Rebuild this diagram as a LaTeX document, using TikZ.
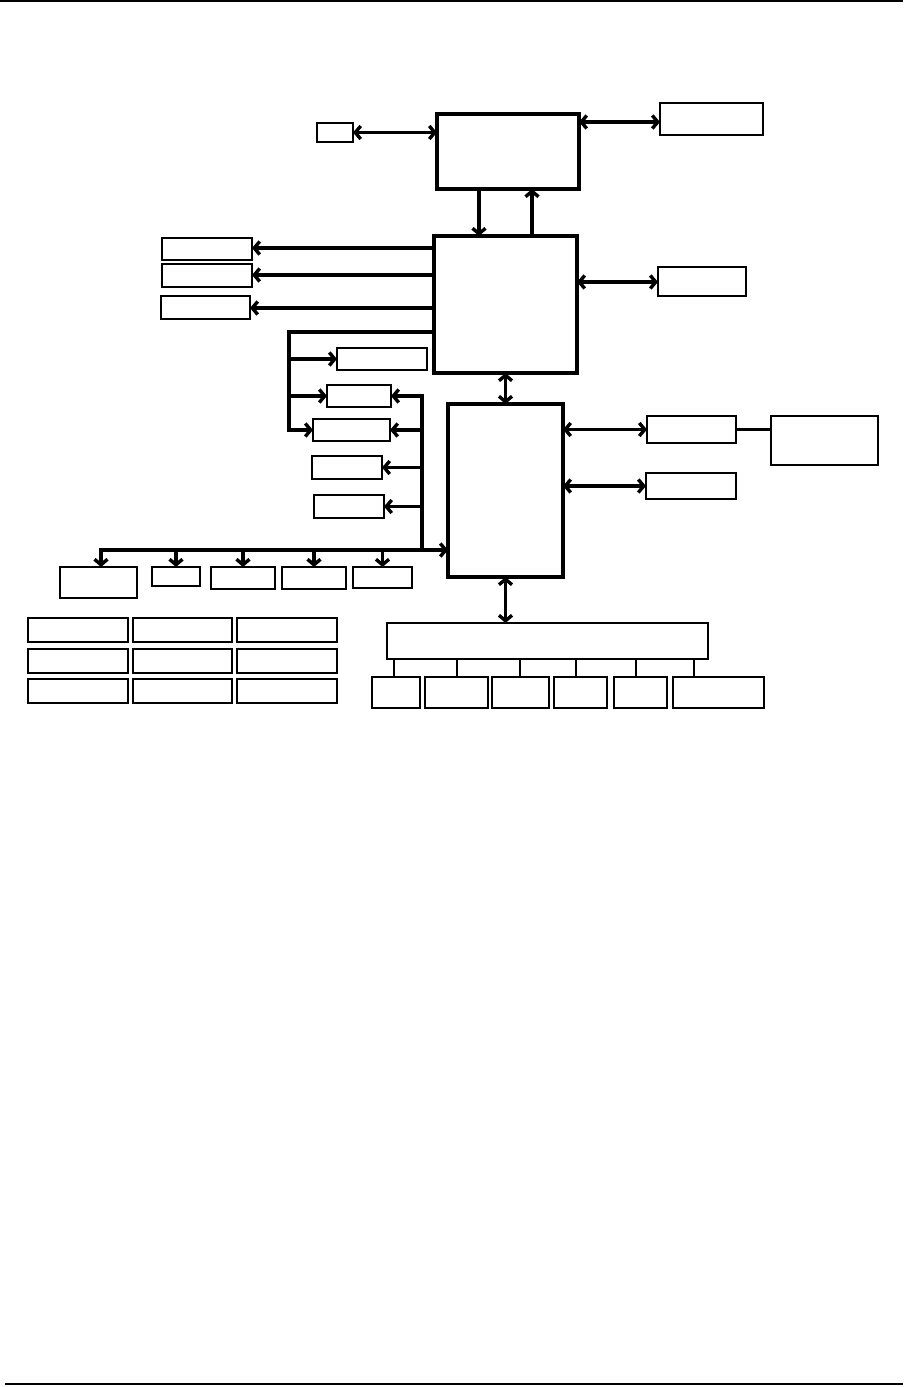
\documentclass[tikz,border=0pt]{standalone}
\usetikzlibrary{fit,arrows.meta}
\newcommand\bx[6]{\node[#1, fit={(#3,#4)(#5,#6)}] (#2) {};}
\begin{document}
\begin{tikzpicture}[x=1pt,y=-1pt,
  thinbox/.style={draw, line width=1.7pt, inner sep=0pt, outer sep=0pt},
  thickbox/.style={draw, line width=3.4pt, inner sep=0pt, outer sep=0pt},
  tiny/.style={line width=1.3pt},
  conn/.style={line width=3.4pt},
  ar/.style={conn, -{Straight Barb[length=5.5pt,width=13pt]}},
  dar/.style={conn, {Straight Barb[length=5.5pt,width=13pt]}-{Straight Barb[length=5.5pt,width=13pt]}},
  rule/.style={line width=1.4pt}]
\useasboundingbox (0,0) rectangle (912,1387);
% page rules
\coordinate (r1a) at (0,1); \coordinate (r1b) at (903,1);
\coordinate (r2a) at (5,1384); \coordinate (r2b) at (903,1384);
\draw[rule] (r1a) -- (r1b);
\draw[rule] (r2a) -- (r2b);
% main boxes
\bx{thickbox}{top}{437}{114}{579}{189}
\bx{thickbox}{mid}{434}{236}{577}{373}
\bx{thickbox}{low}{448}{404}{563}{577}
% top area
\bx{thinbox}{sm}{317}{123}{353}{142}
\bx{thinbox}{tr}{660}{103}{763}{135}
\bx{thinbox}{mr}{658}{267}{746}{296}
% left of mid
\bx{thinbox}{la}{162}{238}{252}{260}
\bx{thinbox}{lb}{162}{264}{252}{287}
\bx{thinbox}{lc}{161}{296}{250}{319}
\bx{thinbox}{d}{337}{348}{427}{370}
\bx{thinbox}{e}{327}{385}{391}{407}
\bx{thinbox}{f}{313}{419}{390}{441}
\bx{thinbox}{g}{312}{456}{382}{479}
\bx{thinbox}{h}{314}{495}{384}{518}
% right of low
\bx{thinbox}{ri}{647}{416}{736}{443}
\bx{thinbox}{rj}{771}{416}{878}{465}
\bx{thinbox}{rk}{646}{473}{736}{499}
% bottom row under bus
\bx{thinbox}{bl}{60}{567}{137}{598}
\bx{thinbox}{bm}{152}{567}{200}{586}
\bx{thinbox}{bn}{211}{567}{275}{589}
\bx{thinbox}{bo}{282}{567}{346}{589}
\bx{thinbox}{bp}{353}{567}{412}{588}
% grid
\bx{thinbox}{g11}{28}{618}{128}{642}
\bx{thinbox}{g12}{133}{618}{232}{642}
\bx{thinbox}{g13}{237}{618}{337}{642}
\bx{thinbox}{g21}{28}{649}{128}{673}
\bx{thinbox}{g22}{133}{649}{232}{673}
\bx{thinbox}{g23}{237}{649}{337}{673}
\bx{thinbox}{g31}{28}{679}{128}{703}
\bx{thinbox}{g32}{133}{679}{232}{703}
\bx{thinbox}{g33}{237}{679}{337}{703}
% wide box and children
\bx{thinbox}{wide}{387}{623}{708}{659}
\bx{thinbox}{cq}{372}{677}{420}{708}
\bx{thinbox}{cr}{425}{677}{488}{708}
\bx{thinbox}{cs}{492}{677}{549}{708}
\bx{thinbox}{ct}{554}{677}{607}{708}
\bx{thinbox}{cu}{614}{677}{667}{708}
\bx{thinbox}{cv}{673}{677}{764}{708}
% helper coordinates
\coordinate (xa) at (479,0);
\coordinate (xb) at (532,0);
\coordinate (ytr) at (0,122);
\coordinate (ymr) at (0,282);
\coordinate (ya) at (0,248);
\coordinate (yb) at (0,275);
\coordinate (yc) at (0,308);
\coordinate (lbtop) at (289,332);
\coordinate (rbtop) at (422,394);
\coordinate (rbbot) at (422,550);
\coordinate (bbus) at (101,550);
\coordinate (xq) at (394,0);
\coordinate (xr) at (457,0);
\coordinate (xs) at (520,0);
\coordinate (xt) at (576,0);
\coordinate (xu) at (636,0);
\coordinate (xv) at (694,0);
% top connections
\draw[dar] (sm.east) -- (sm.east -| top.west);
\draw[dar] (top.east |- ytr) -- (tr.west |- ytr);
\draw[ar] (top.south -| xa) -- (mid.north -| xa);
\draw[ar] (mid.north -| xb) -- (top.south -| xb);
\draw[dar] (mid.east |- ymr) -- (mr.west |- ymr);
% left arrows from mid
\draw[ar] (mid.west |- ya) -- (la.east |- ya);
\draw[ar] (mid.west |- yb) -- (lb.east |- yb);
\draw[ar] (mid.west |- yc) -- (lc.east |- yc);
% left bus
\draw[ar] (mid.west |- lbtop) -- (lbtop) -- (lbtop |- f.west) -- (f.west);
\draw[ar] (lbtop |- d.west) -- (d.west);
\draw[ar] (lbtop |- e.west) -- (e.west);
% right bus
\draw[ar] (rbbot) -- (rbtop |- e.east) -- (e.east);
\draw[ar] (rbtop |- f.east) -- (f.east);
\draw[ar] (rbtop |- g.east) -- (g.east);
\draw[ar] (rbtop |- h.east) -- (h.east);
% bottom bus
\draw[dar] (bl.north -| bbus) -- (bbus) -- (bbus -| low.west);
\draw[ar] (bm.north |- bbus) -- (bm.north);
\draw[ar] (bn.north |- bbus) -- (bn.north);
\draw[ar] (bo.north |- bbus) -- (bo.north);
\draw[ar] (bp.north |- bbus) -- (bp.north);
% mid-low and low-wide
\draw[dar] (mid.south -| low.north) -- (low.north);
\draw[dar] (low.south) -- (low.south |- wide.north);
% right of low
\draw[dar] (low.east |- ri.west) -- (ri.west);
\draw[dar] (low.east |- rk.west) -- (rk.west);
\draw[conn] (ri.east) -- (ri.east -| rj.west);
% wide children
\draw[tiny] (wide.south -| xq) -- (cq.north -| xq);
\draw[tiny] (wide.south -| xr) -- (cr.north -| xr);
\draw[tiny] (wide.south -| xs) -- (cs.north -| xs);
\draw[tiny] (wide.south -| xt) -- (ct.north -| xt);
\draw[tiny] (wide.south -| xu) -- (cu.north -| xu);
\draw[tiny] (wide.south -| xv) -- (cv.north -| xv);
\end{tikzpicture}
\end{document}
